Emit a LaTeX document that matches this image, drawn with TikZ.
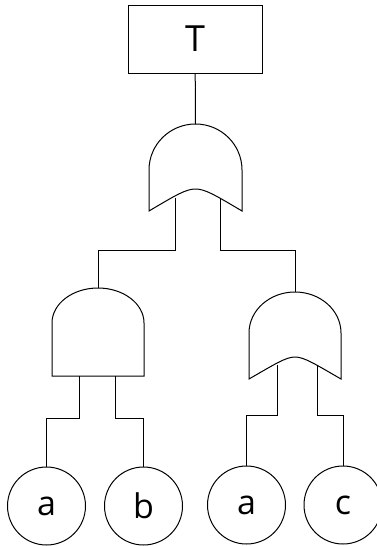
\documentclass[tikz,border=0pt]{standalone}
\usepackage{fontspec}
\setmainfont{Open Sans}
\begin{document}
\begin{tikzpicture}[x=1pt,y=-1pt,line width=1pt,
  evt/.style={draw,circle,minimum size=78pt,inner sep=0pt,font=\fontsize{34}{40}\selectfont},
  topbox/.style={draw,rectangle,minimum width=134pt,minimum height=68pt,inner sep=0pt,font=\fontsize{36}{40}\selectfont},
  gate/.style={draw},
  wire/.style={draw}]
\useasboundingbox (0,0) rectangle (377,546);
% top event
\node[topbox] (T) at (195,39) {T};
% OR gate 1
\path[gate] (149,211) -- (149,170) arc[start angle=180,end angle=360,x radius=46.5,y radius=46] -- (242,211)
  .. controls (215,195) and (205,189) .. (195.5,189) .. controls (186,189) and (176,195) .. (149,211) -- cycle;
\coordinate (g1out) at (195.5,124);
\coordinate (g1in1) at (175,198);
\coordinate (g1in2) at (220,198);
% AND gate
\path[gate] (52,376) -- (52,323) arc[start angle=180,end angle=360,x radius=46,y radius=35] -- (144,376) -- cycle;
\coordinate (g2out) at (98,288);
\coordinate (g2in1) at (79,376);
\coordinate (g2in2) at (115,376);
% OR gate 2
\path[gate] (249,379) -- (249,333) arc[start angle=180,end angle=360,x radius=46,y radius=41] -- (341,379)
  .. controls (315,364) and (304,357) .. (295,357) .. controls (286,357) and (275,364) .. (249,379) -- cycle;
\coordinate (g3out) at (295,292);
\coordinate (g3in1) at (277,365);
\coordinate (g3in2) at (317,365);
% basic events
\node[evt] (a1) at (46.5,506) {a};
\node[evt] (b) at (143.5,506) {b};
\node[evt] (a2) at (246.5,505) {a};
\node[evt] (c) at (343,505) {c};
% connectors
\path[wire] (T) -- (g1out);
\path[wire] (g1in1) -- (175,250) -| (g2out);
\path[wire] (g1in2) -- (220,250) -| (g3out);
\path[wire] (g2in1) -- (79,418) -| (a1);
\path[wire] (g2in2) -- (115,418) -| (b);
\path[wire] (g3in1) -- (277,415) -| (a2);
\path[wire] (g3in2) -- (317,415) -| (c);
\end{tikzpicture}
\end{document}
